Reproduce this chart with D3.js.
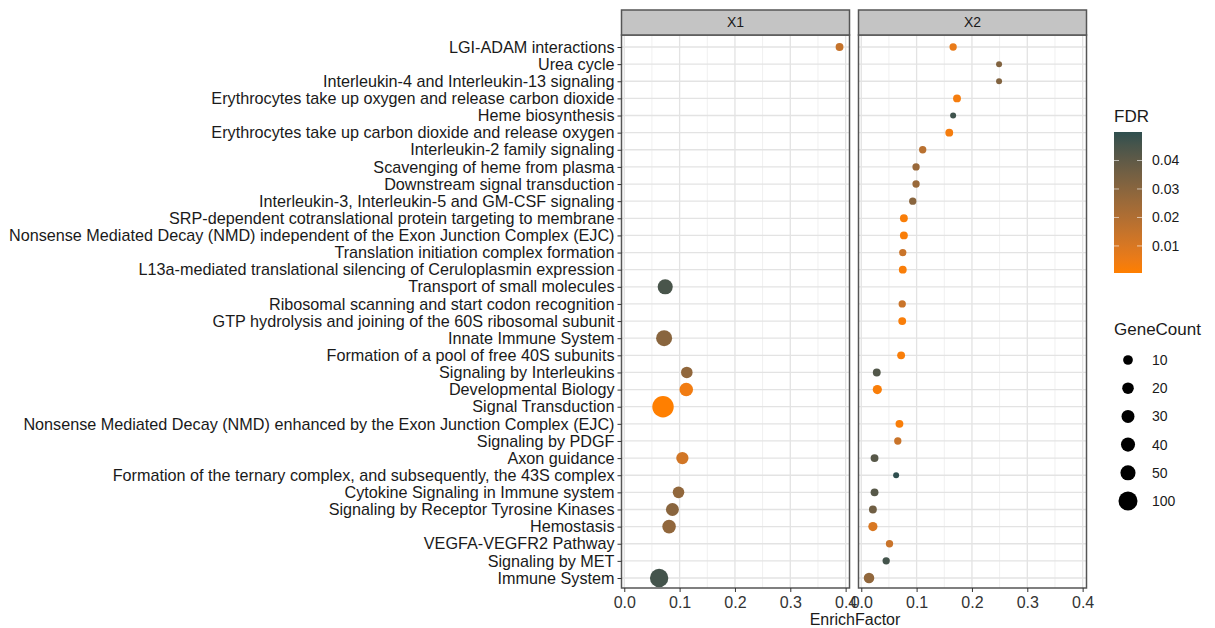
<!DOCTYPE html>
<html>
  <head>
    <title></title>
    <style>
      body, html{
        margin: 0;
        background: #fff;
      }
      text{
        font-family: "Liberation Sans", Arial, sans-serif;
      }
    </style>
  </head>
  <body>
    <svg id="chart" width="1215" height="628"></svg>
    <script src="https://cdnjs.cloudflare.com/ajax/libs/d3/7.8.5/d3.min.js"></script>
    <script>
      // pathways, top to bottom
      var pathways = [
        'LGI-ADAM interactions',
        'Urea cycle',
        'Interleukin-4 and Interleukin-13 signaling',
        'Erythrocytes take up oxygen and release carbon dioxide',
        'Heme biosynthesis',
        'Erythrocytes take up carbon dioxide and release oxygen',
        'Interleukin-2 family signaling',
        'Scavenging of heme from plasma',
        'Downstream signal transduction',
        'Interleukin-3, Interleukin-5 and GM-CSF signaling',
        'SRP-dependent cotranslational protein targeting to membrane',
        'Nonsense Mediated Decay (NMD) independent of the Exon Junction Complex (EJC)',
        'Translation initiation complex formation',
        'L13a-mediated translational silencing of Ceruloplasmin expression',
        'Transport of small molecules',
        'Ribosomal scanning and start codon recognition',
        'GTP hydrolysis and joining of the 60S ribosomal subunit',
        'Innate Immune System',
        'Formation of a pool of free 40S subunits',
        'Signaling by Interleukins',
        'Developmental Biology',
        'Signal Transduction',
        'Nonsense Mediated Decay (NMD) enhanced by the Exon Junction Complex (EJC)',
        'Signaling by PDGF',
        'Axon guidance',
        'Formation of the ternary complex, and subsequently, the 43S complex',
        'Cytokine Signaling in Immune system',
        'Signaling by Receptor Tyrosine Kinases',
        'Hemostasis',
        'VEGFA-VEGFR2 Pathway',
        'Signaling by MET',
        'Immune System'
      ]

      var panels = ['X1', 'X2']

      // X1 panel
      var x1Paths = ['LGI-ADAM interactions', 'Transport of small molecules', 'Innate Immune System',
        'Signaling by Interleukins', 'Developmental Biology', 'Signal Transduction', 'Axon guidance',
        'Cytokine Signaling in Immune system', 'Signaling by Receptor Tyrosine Kinases', 'Hemostasis', 'Immune System']
      var x1Enrich = [0.389, 0.074, 0.072, 0.113, 0.112, 0.070, 0.105, 0.098, 0.087, 0.081, 0.063]
      var x1Count  = [4, 50, 60, 20, 35, 140, 25, 20, 30, 35, 90]
      var x1Fdr    = [0.015, 0.045, 0.030, 0.028, 0.004, 0.0005, 0.012, 0.028, 0.030, 0.028, 0.046]

      // X2 panel
      var x2Paths = pathways.filter(function(p){
        return ['Transport of small molecules', 'Innate Immune System', 'Signal Transduction'].indexOf(p) < 0
      })
      var x2Enrich = [0.166, 0.249, 0.249, 0.173, 0.166, 0.159, 0.111, 0.099, 0.099, 0.093,
        0.077, 0.077, 0.075, 0.075, 0.074, 0.074, 0.072, 0.028, 0.029, 0.069,
        0.066, 0.024, 0.063, 0.024, 0.021, 0.021, 0.051, 0.045, 0.014]
      var x2Count  = [3, 2, 2, 4, 2, 4, 3, 3, 3, 3,
        4, 4, 3, 4, 3, 4, 4, 4, 8, 4,
        3, 4, 2, 4, 4, 8, 3, 3, 14]
      var x2Fdr    = [0.006, 0.032, 0.032, 0.003, 0.047, 0.003, 0.018, 0.026, 0.026, 0.030,
        0.002, 0.002, 0.014, 0.002, 0.014, 0.002, 0.002, 0.043, 0.002, 0.002,
        0.014, 0.042, 0.050, 0.042, 0.036, 0.010, 0.014, 0.046, 0.028]

      var xTicks = [0, 0.1, 0.2, 0.3, 0.4]
      var xMinor = [0.05, 0.15, 0.25, 0.35]
      var fdrTicks = [0.01, 0.02, 0.03, 0.04]
      var countBreaks = [10, 20, 30, 40, 50, 100]

      function rows(paths, enrich, count, fdr){
        return paths.map(function(p, i){
          return {path: p, enrich: enrich[i], count: count[i], fdr: fdr[i]}
        })
      }
      var data = {X1: rows(x1Paths, x1Enrich, x1Count, x1Fdr), X2: rows(x2Paths, x2Enrich, x2Count, x2Fdr)}

      var svg = d3.select('#chart')
      var panelTop = 35, panelBottom = 588, stripH = 25
      var panelX = {X1: [621.5, 849.5], X2: [858.5, 1086.5]}
      var font = '"Liberation Sans", Arial, sans-serif'

      var y = d3.scalePoint().domain(pathways).range([47, 578])

      var allFdr = x1Fdr.concat(x2Fdr)
      var fdrExtent = [d3.min(allFdr), d3.max(allFdr)]
      var color = d3.scaleLinear().domain(fdrExtent).range(['#FF7F00', '#2F4F4F']).interpolate(d3.interpolateLab)

      // ggplot-ish area scale: radius linear in sqrt of rescaled count
      var cMin = 2, cMax = 150
      var rad = d3.scaleLinear().domain([0, 1]).range([3, 11])
      function radius(c){ return rad(Math.sqrt(Math.max(0, (c - cMin) / (cMax - cMin)))) }

      panels.forEach(function(key){
        var x = d3.scaleLinear().domain([-0.005, 0.407]).range(panelX[key])
        var g = svg.append('g')
        var x0 = panelX[key][0], x1 = panelX[key][1]

        g.append('rect').attr('x', x0).attr('y', panelTop).attr('width', x1 - x0).attr('height', panelBottom - panelTop).attr('fill', '#fff')

        g.selectAll('.minor').data(xMinor).enter().append('line')
          .attr('x1', function(d){ return x(d) }).attr('x2', function(d){ return x(d) })
          .attr('y1', panelTop).attr('y2', panelBottom).attr('stroke', '#f0f0f0').attr('stroke-width', 1)
        g.selectAll('.major').data(xTicks).enter().append('line')
          .attr('x1', function(d){ return x(d) }).attr('x2', function(d){ return x(d) })
          .attr('y1', panelTop).attr('y2', panelBottom).attr('stroke', '#e3e3e3').attr('stroke-width', 1.3)
        g.selectAll('.hgrid').data(pathways).enter().append('line')
          .attr('x1', x0).attr('x2', x1)
          .attr('y1', function(d){ return y(d) }).attr('y2', function(d){ return y(d) })
          .attr('stroke', '#e3e3e3').attr('stroke-width', 1.3)

        g.selectAll('circle').data(data[key]).enter().append('circle')
          .attr('cx', function(d){ return x(d.enrich) })
          .attr('cy', function(d){ return y(d.path) })
          .attr('r', function(d){ return radius(d.count) })
          .attr('fill', function(d){ return color(d.fdr) })

        g.append('rect').attr('x', x0).attr('y', panelTop).attr('width', x1 - x0).attr('height', panelBottom - panelTop)
          .attr('fill', 'none').attr('stroke', '#555').attr('stroke-width', 1.5)

        // strip
        g.append('rect').attr('x', x0).attr('y', panelTop - stripH).attr('width', x1 - x0).attr('height', stripH)
          .attr('fill', '#c4c4c4').attr('stroke', '#555').attr('stroke-width', 1.5)
        g.append('text').attr('x', (x0 + x1) / 2).attr('y', panelTop - stripH / 2).attr('dy', '0.35em')
          .attr('text-anchor', 'middle').attr('font-size', 14).attr('fill', '#1a1a1a').text(key)

        // x axis
        var ax = g.append('g').attr('transform', 'translate(0,' + panelBottom + ')')
          .call(d3.axisBottom(x).tickValues(xTicks).tickFormat(d3.format('.1f')).tickSizeOuter(0).tickSize(4))
        ax.select('.domain').remove()
        ax.selectAll('line').attr('stroke', '#333')
        ax.selectAll('text').attr('font-size', 16).attr('fill', '#333').attr('font-family', font).attr('dy', '0.8em')
      })

      // y axis on the left panel
      var ay = svg.append('g').attr('transform', 'translate(' + panelX.X1[0] + ',0)')
        .call(d3.axisLeft(y).tickSize(4).tickSizeOuter(0))
      ay.select('.domain').remove()
      ay.selectAll('line').attr('stroke', '#333')
      ay.selectAll('text').attr('font-size', 16.2).attr('fill', '#1a1a1a').attr('font-family', font)

      svg.append('text').attr('x', 855).attr('y', 625).attr('text-anchor', 'middle')
        .attr('font-size', 16).attr('fill', '#1a1a1a').text('EnrichFactor')

      // FDR colorbar
      var barX = 1114, barW = 28, barTop = 132, barBottom = 273
      var fy = d3.scaleLinear().domain(fdrExtent).range([barBottom, barTop])
      var grad = svg.append('defs').append('linearGradient').attr('id', 'fdrgrad')
        .attr('x1', 0).attr('y1', 1).attr('x2', 0).attr('y2', 0)
      d3.range(0, 1.0001, 0.1).forEach(function(t){
        grad.append('stop').attr('offset', t)
          .attr('stop-color', color(fdrExtent[0] + t * (fdrExtent[1] - fdrExtent[0])))
      })
      svg.append('text').attr('x', barX).attr('y', 122).attr('font-size', 17).attr('fill', '#1a1a1a').text('FDR')
      svg.append('rect').attr('x', barX).attr('y', barTop).attr('width', barW).attr('height', barBottom - barTop)
        .attr('fill', 'url(#fdrgrad)')
      fdrTicks.forEach(function(t){
        svg.append('line').attr('x1', barX).attr('x2', barX + 5).attr('y1', fy(t)).attr('y2', fy(t))
          .attr('stroke', '#fff').attr('stroke-opacity', 0.6)
        svg.append('line').attr('x1', barX + barW - 5).attr('x2', barX + barW).attr('y1', fy(t)).attr('y2', fy(t))
          .attr('stroke', '#fff').attr('stroke-opacity', 0.6)
        svg.append('text').attr('x', 1152).attr('y', fy(t)).attr('dy', '0.35em').attr('font-size', 14)
          .attr('fill', '#1a1a1a').text(t)
      })

      // GeneCount legend
      svg.append('text').attr('x', barX).attr('y', 335).attr('font-size', 17).attr('fill', '#1a1a1a').text('GeneCount')
      var sy = d3.scalePoint().domain(countBreaks).range([360, 501])
      countBreaks.forEach(function(c){
        svg.append('circle').attr('cx', 1128).attr('cy', sy(c)).attr('r', radius(c)).attr('fill', '#000')
        svg.append('text').attr('x', 1152).attr('y', sy(c)).attr('dy', '0.35em').attr('font-size', 14)
          .attr('fill', '#1a1a1a').text(c)
      })
    </script>
  </body>
</html>
